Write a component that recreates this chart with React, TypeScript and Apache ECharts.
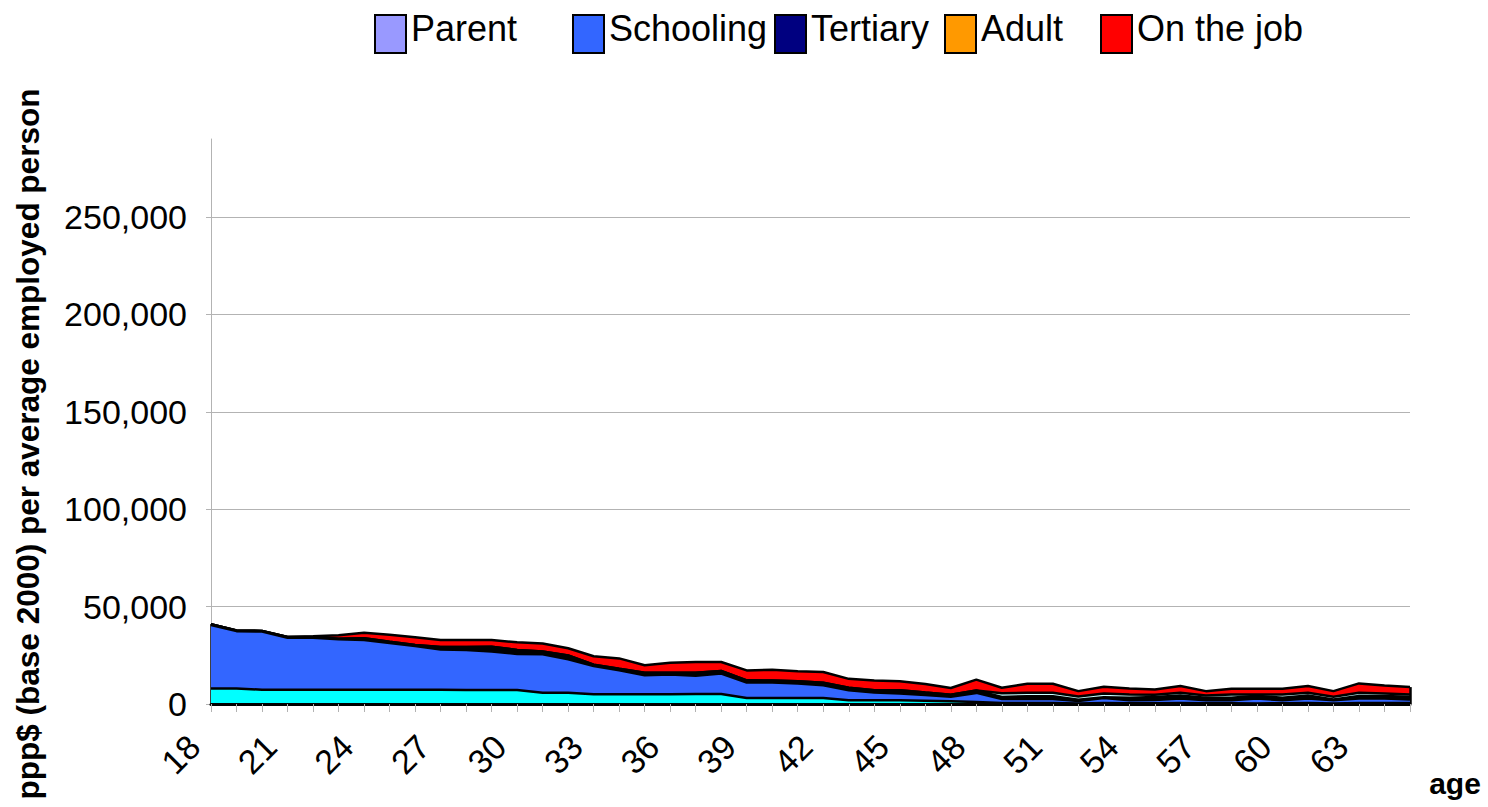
import React, { useEffect, useRef } from 'react';
import * as echarts from 'echarts';

const ages = ['18','19','20','21','22','23','24','25','26','27','28','29','30','31','32','33','34','35','36','37','38','39','40','41','42','43','44','45','46','47','48','49','50','51','52','53','54','55','56','57','58','59','60','61','62','63','64','65'];

const parent = [8000,8000,7300,7300,7300,7300,7300,7300,7300,7300,7200,7200,7200,5800,5800,5000,5000,5000,5000,5100,5100,3100,3100,3100,3100,1900,1900,1900,1700,1400,1000,500,500,500,300,500,400,400,500,400,400,300,400,500,300,500,500,500];
const schooling = [32500,29400,29900,26700,26700,25900,25500,24000,22450,20700,20500,19700,18500,19700,17100,14500,12300,9700,10200,9350,10550,7930,7930,7400,6560,5200,4000,3500,2900,2300,4700,2100,2100,2100,1200,2600,1500,1700,2280,1500,1500,2500,1500,2280,1600,2280,2280,1770];
const tertiary = [500,300,300,400,400,300,1000,600,500,1200,1500,2500,2000,1500,2000,700,800,1400,800,1600,1300,1100,1000,1200,1200,1200,1200,1700,1300,1100,1200,950,1400,1400,700,400,1300,1450,1620,1300,1300,1500,1300,1620,450,1280,1280,1450];
const adult = [0,0,0,0,0,0,0,0,0,0,0,0,0,0,0,0,0,0,0,0,0,0,0,0,0,0,0,0,0,0,0,2000,1770,1770,1700,1900,1700,1200,1370,1200,1700,600,1700,1370,1370,1710,1370,1200];
const onTheJob = [0,0,0,0,400,1800,2800,3700,4000,3700,3700,3400,4000,4100,3700,4300,5300,3800,5200,5500,4600,5100,5600,5100,5600,4600,5000,4600,4400,3400,5600,2800,4620,4620,2700,3400,3100,2730,3420,2200,2900,2900,2900,3420,2900,4790,4100,3760];

const seriesNames = ['Parent', 'Schooling', 'Tertiary', 'Adult', 'On the job'];
const seriesData = [parent, schooling, tertiary, adult, onTheJob];
const areaColors = ['#00FFFF', '#3366FF', '#000000', '#CCFFFF', '#FF0000'];
const legendColors = ['#9999FF', '#3366FF', '#000080', '#FF9900', '#FF0000'];
const legendLefts = [369, 567, 769, 939, 1095];

const yTitle = 'ppp$ (base 2000) per average employed person';
const xTitle = 'age';

const FONT = '"Liberation Sans", Arial, Helvetica, sans-serif';

export default function App() {
  const ref = useRef<HTMLDivElement>(null);
  useEffect(() => {
    if (!ref.current) return;
    const chart = echarts.init(ref.current, null, { renderer: 'svg' });
    const first = seriesData.reduce((s, arr) => s + arr[0], 0);
    const last = seriesData.reduce((s, arr) => s + arr[arr.length - 1], 0);
    const option: any = {
      animation: false,
      backgroundColor: '#ffffff',
      textStyle: { fontFamily: FONT },
      grid: { left: 211, right: 78, top: 139, bottom: 103, containLabel: false },
      legend: seriesNames.map((n, i) => ({
        data: [{ name: n, icon: 'rect', itemStyle: { color: legendColors[i], borderColor: '#000', borderWidth: 2 } }],
        left: legendLefts[i],
        top: 5,
        itemWidth: 31,
        itemHeight: 38,
        selectedMode: false,
        formatter: (name: string) => '{t|' + name + '}',
        textStyle: {
          fontSize: 36, color: '#000', fontFamily: FONT,
          rich: { t: { fontSize: 36, color: '#000', fontFamily: FONT, padding: [0, 0, 12, 0] } },
        },
      })),
      xAxis: {
        type: 'category',
        data: ages,
        boundaryGap: false,
        z: 10,
        axisLine: { show: true, lineStyle: { color: '#000', width: 3 } },
        axisTick: { show: true, interval: 0, length: 8, lineStyle: { color: '#b3b3b3', width: 1 } },
        axisLabel: { interval: 2, rotate: 45, fontSize: 34, color: '#000', margin: 20, padding: [0, 24, 0, 0], fontFamily: FONT },
        splitLine: { show: false },
      },
      yAxis: {
        type: 'value',
        min: 0,
        max: 290000,
        interval: 50000,
        axisLine: { show: true, lineStyle: { color: '#b3b3b3', width: 1 } },
        axisTick: { show: true, length: 5, lineStyle: { color: '#b3b3b3' } },
        axisLabel: {
          fontSize: 34, color: '#000', margin: 24, fontFamily: FONT, showMaxLabel: false,
          formatter: (v: number) => (v % 50000 === 0 ? v.toLocaleString('en-US') : ''),
        },
        splitLine: { show: true, showMaxLine: false, lineStyle: { color: '#b3b3b3', width: 1 } },
      },
      graphic: [
        {
          type: 'text', x: 28, y: 444, rotation: Math.PI / 2,
          style: { text: yTitle, fontSize: 31.5, fontWeight: 'bold', fill: '#000', align: 'center', verticalAlign: 'middle', fontFamily: FONT },
        },
        {
          type: 'text', x: 1455, y: 783,
          style: { text: xTitle, fontSize: 30, fontWeight: 'bold', fill: '#000', align: 'center', verticalAlign: 'middle', fontFamily: FONT },
        },
      ],
      series: seriesNames.map((n, i) => ({
        name: n,
        type: 'line',
        stack: 'total',
        data: seriesData[i],
        symbol: 'none',
        showSymbol: false,
        z: 7 - i,
        lineStyle: { color: '#000', width: 2.5 },
        itemStyle: { color: legendColors[i] },
        areaStyle: { color: areaColors[i], opacity: 1 },
        markLine: i === 0 ? {
          silent: true,
          symbol: 'none',
          label: { show: false },
          lineStyle: { color: '#000', width: 2.5, type: 'solid' },
          data: [
            [{ coord: [ages[0], 0] }, { coord: [ages[0], first] }],
            [{ coord: [ages[ages.length - 1], 0] }, { coord: [ages[ages.length - 1], last] }],
          ],
        } : undefined,
      })),
    };
    chart.setOption(option);
    return () => chart.dispose();
  }, []);
  return <div ref={ref} style={{ position: 'fixed', left: 0, top: 0, width: 1488, height: 807 }} />;
}
